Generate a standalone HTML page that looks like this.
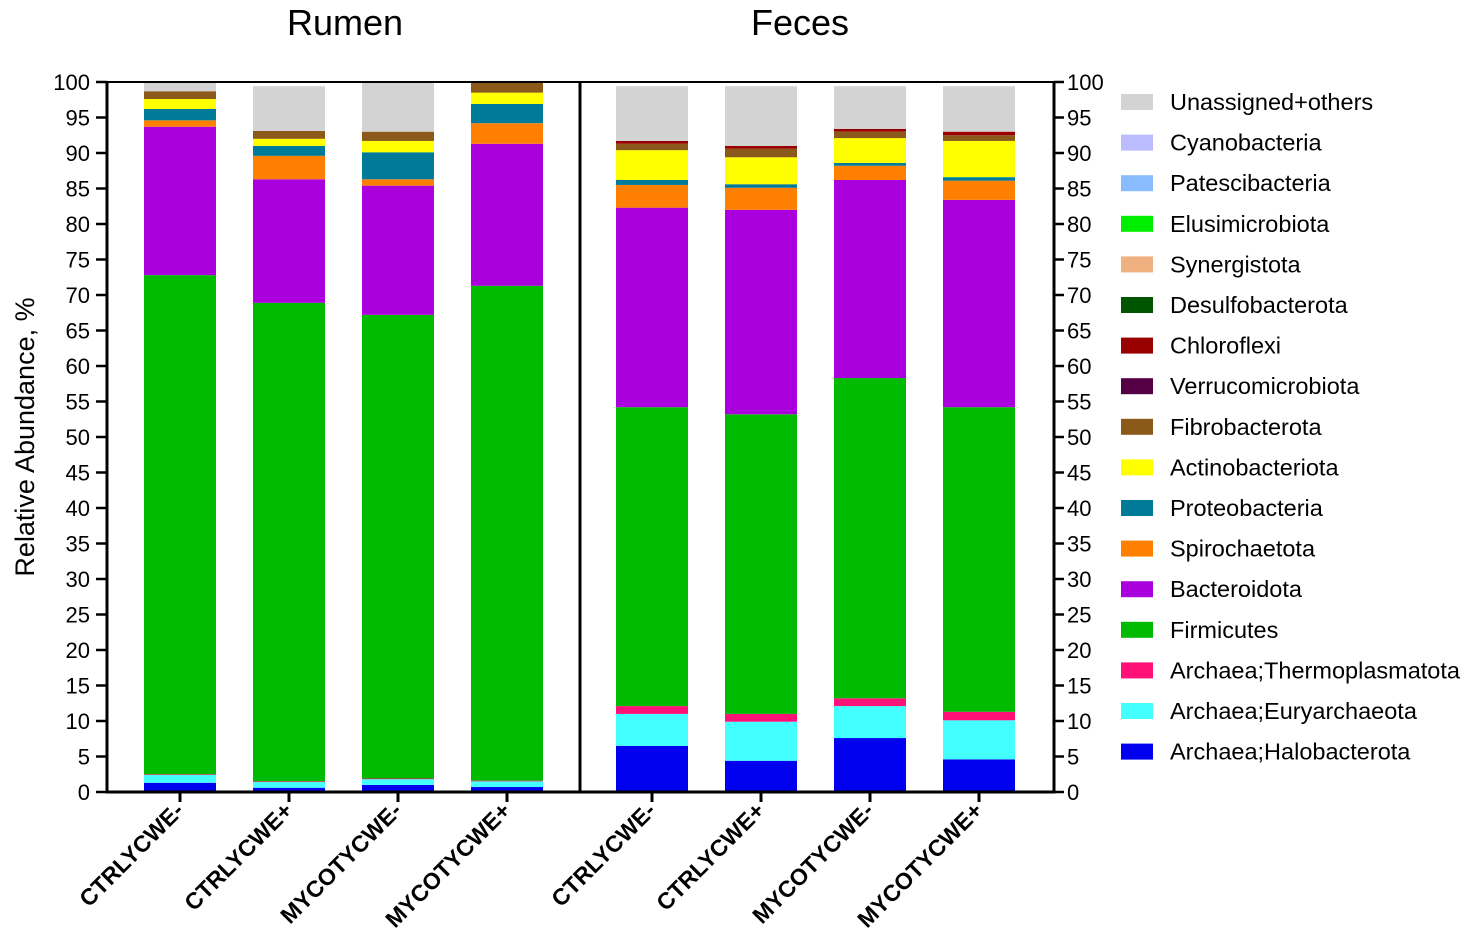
<!DOCTYPE html>
<html><head><meta charset="utf-8"><style>
html,body{margin:0;padding:0;background:#fff;}
svg{display:block;font-family:"Liberation Sans",Arial,sans-serif;}
</style></head><body>
<svg id="chart" width="1477" height="951" viewBox="0 0 1477 951" xmlns="http://www.w3.org/2000/svg">
<text x="345" y="35" font-size="36" text-anchor="middle">Rumen</text>
<text x="800" y="35" font-size="36" text-anchor="middle">Feces</text>
<text transform="translate(34,437) rotate(-90)" font-size="27" text-anchor="middle">Relative Abundance, %</text>
<g id="bars"></g>
<g id="axes"></g>
<g id="legend"></g>
</svg>
<script>
const categories = ["CTRLYCWE-","CTRLYCWE+","MYCOTYCWE-","MYCOTYCWE+"];
const panels = ["Rumen","Feces"];
const taxa = ["Archaea;Halobacterota","Archaea;Euryarchaeota","Archaea;Thermoplasmatota","Firmicutes","Bacteroidota","Spirochaetota","Proteobacteria","Actinobacteriota","Fibrobacterota","Verrucomicrobiota","Chloroflexi","Desulfobacterota","Synergistota","Elusimicrobiota","Patescibacteria","Cyanobacteria","Unassigned+others"];
const colors = ["#0000ee","#44ffff","#ff1177","#00bb00","#aa00dd","#ff8000","#007a99","#ffff00","#8b5a1a","#550044","#990000","#005500","#f0b080","#00ee00","#88bbff","#bbbbff","#d3d3d3"];
// values per taxon: [rumen x4, feces x4]
const halobacterota   = [1.3,0.6,1.0,0.7, 6.5,4.4,7.6,4.6];
const euryarchaeota   = [1.1,0.8,0.8,0.8, 4.5,5.5,4.5,5.5];
const thermoplasmatota= [0.1,0.1,0.1,0.1, 1.1,1.1,1.1,1.2];
const firmicutes      = [70.3,67.4,65.3,69.7, 42.1,42.2,45.1,42.9];
const bacteroidota    = [20.9,17.4,18.2,20.0, 28.1,28.8,27.9,29.2];
const spirochaetota   = [0.9,3.3,0.9,2.9, 3.2,3.1,2.0,2.7];
const proteobacteria  = [1.6,1.4,3.8,2.7, 0.7,0.5,0.4,0.5];
const actinobacteriota= [1.4,1.0,1.6,1.6, 4.2,3.8,3.5,5.1];
const fibrobacterota  = [1.1,1.1,1.3,1.4, 0.9,1.2,0.9,0.8];
const verrucomicrobiota=[0,0,0,0, 0,0,0,0];
const chloroflexi     = [0,0,0,0, 0.4,0.4,0.4,0.5];
const desulfobacterota= [0,0,0,0, 0,0,0,0];
const synergistota    = [0,0,0,0, 0,0,0,0];
const elusimicrobiota = [0,0,0,0, 0,0,0,0];
const patescibacteria = [0,0,0,0, 0,0,0,0];
const cyanobacteria   = [0,0,0,0, 0,0,0,0];
const unassigned      = [1.3,6.3,6.9,0.1, 7.7,8.4,6.0,6.4];
const yTicks = [0,5,10,15,20,25,30,35,40,45,50,55,60,65,70,75,80,85,90,95,100];

const series=[halobacterota,euryarchaeota,thermoplasmatota,firmicutes,bacteroidota,spirochaetota,proteobacteria,actinobacteriota,fibrobacterota,verrucomicrobiota,chloroflexi,desulfobacterota,synergistota,elusimicrobiota,patescibacteria,cyanobacteria,unassigned];
const NS="http://www.w3.org/2000/svg";
const y0=792,y100=82;
const xL=107,xR=1054,xMid=580;
function yScale(v){return y0-(y0-y100)*v/100;}
const panelStart=[180,652], step=109, bw=72;
function xScale(p,i){return panelStart[p]+i*step;}
function mk(tag,attrs,parent){const e=document.createElementNS(NS,tag);for(const k in attrs)e.setAttribute(k,attrs[k]);parent.appendChild(e);return e;}
const gb=document.getElementById('bars'),ga=document.getElementById('axes'),gl=document.getElementById('legend');
for(let p=0;p<2;p++){for(let i=0;i<4;i++){
  const idx=p*4+i;let acc=0;const cx=xScale(p,i);
  for(let s=0;s<series.length;s++){
    const v=series[s][idx];if(v<=0){continue;}
    const r=mk('rect',{x:cx-bw/2,y:yScale(acc+v),width:bw,height:yScale(acc)-yScale(acc+v),fill:colors[s]},gb);
    
    
    acc+=v;
  }
  const t=mk('line',{x1:cx,x2:cx,y1:y0,y2:y0+10,stroke:'#000','stroke-width':3},ga);
  
  
  const lb=mk('text',{transform:'translate('+(cx+5)+','+(y0+20)+') rotate(-45)','text-anchor':'end','font-size':23,'font-weight':'bold'},ga);
  lb.textContent=categories[i];
  
  
}}
[[xL,y100,xL,y0+1.5],[xL-1.5,y0,xR+1.5,y0],[xL,y100,xR,y100],[xMid,y100,xMid,y0],[xR,y100,xR,y0+1.5]].forEach((l,k)=>{
  const e=mk('line',{x1:l[0],y1:l[1],x2:l[2],y2:l[3],stroke:'#000','stroke-width':k===2?2:3},ga);
  
  
});
yTicks.forEach(v=>{
  const y=yScale(v);
  const a=mk('line',{x1:xL-11,x2:xL,y1:y,y2:y,stroke:'#000','stroke-width':2.5},ga);
  
  
  const b=mk('line',{x1:xR,x2:xR+10,y1:y,y2:y,stroke:'#000','stroke-width':2.5},ga);
  
  
  const t1=mk('text',{x:xL-17,y:y+8,'font-size':22,'text-anchor':'end'},ga);t1.textContent=v;
  
  
  const t2=mk('text',{x:1067,y:y+8,'font-size':22,'text-anchor':'start'},ga);t2.textContent=v;
  
  
});
for(let k=0;k<taxa.length;k++){
  const s=taxa.length-1-k;const y=102+k*40.6;
  const r=mk('rect',{x:1121,y:y-8,width:32,height:16,fill:colors[s]},gl);
  
  
  const t=mk('text',{x:1170,y:y+8,'font-size':23.5},gl);t.textContent=taxa[s];
  
  
}
</script>
</body></html>
